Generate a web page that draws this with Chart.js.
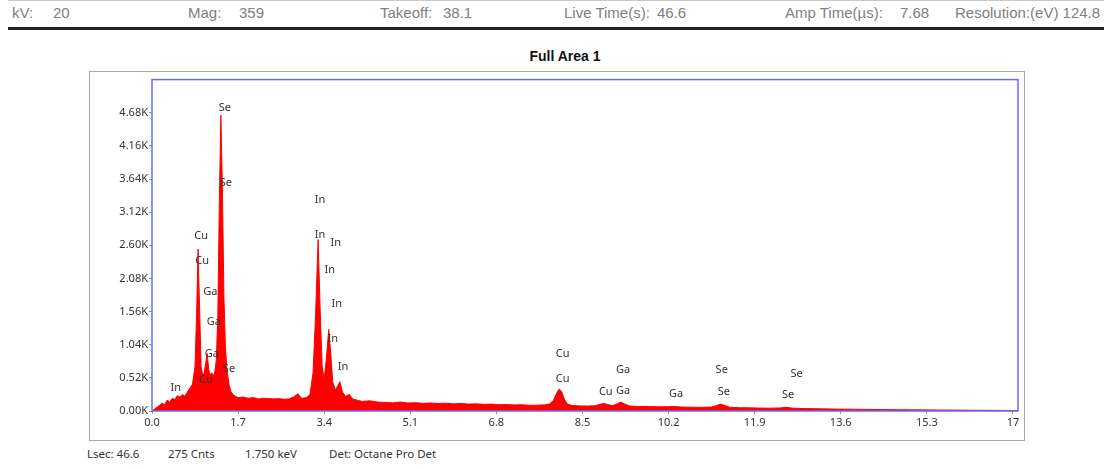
<!DOCTYPE html>
<html>
<head>
<meta charset="utf-8">
<script src="https://cdn.jsdelivr.net/npm/chart.js@4/dist/chart.umd.min.js"></script>
<style>
  body { margin: 0; background: #fff; width: 1112px; height: 468px; position: relative; overflow: hidden; font-family: "Liberation Sans", Arial, sans-serif; }
  .hdr { position: absolute; top: 4px; font-size: 15px; color: #808080; white-space: pre; }
  #topline { position: absolute; left: 8px; top: 0px; width: 1096px; height: 1px; background: #c8c8c8; }
  #rule { position: absolute; left: 8px; top: 27px; width: 1096px; height: 3px; background: #222; }
  #title { position: absolute; left: 0; width: 1130px; top: 48px; text-align: center; font-weight: bold; font-size: 14px; color: #111; }
  #box { position: absolute; left: 89px; top: 71px; width: 934px; height: 368px; border: 1px solid #a8a8a8; }
  #box canvas { position: absolute; left: 0; top: 0; }
  .ftr { position: absolute; top: 446px; font-family: "Noto Sans", sans-serif; font-size: 11.5px; color: #333; white-space: pre; }
</style>
</head>
<body>
<div id="topline"></div>
<div class="hdr" style="left:12px">kV:</div>
<div class="hdr" style="left:53px">20</div>
<div class="hdr" style="left:188px">Mag:</div>
<div class="hdr" style="left:239px">359</div>
<div class="hdr" style="left:380px">Takeoff:</div>
<div class="hdr" style="left:443px">38.1</div>
<div class="hdr" style="left:564px">Live Time(s):</div>
<div class="hdr" style="left:657px">46.6</div>
<div class="hdr" style="left:785px">Amp Time(µs):</div>
<div class="hdr" style="left:900px">7.68</div>
<div class="hdr" style="left:955px">Resolution:(eV) 124.8</div>
<div id="rule"></div>
<div id="title">Full Area 1</div>
<div id="box"><canvas id="chart" width="934" height="368"></canvas></div>
<div class="ftr" style="left:87px">Lsec: 46.6</div>
<div class="ftr" style="left:168px">275 Cnts</div>
<div class="ftr" style="left:245px">1.750 keV</div>
<div class="ftr" style="left:329px">Det: Octane Pro Det</div>

<script>
// spectrum, energy in keV and counts
const energy = [
  0.00, 0.05, 0.10, 0.15, 0.20, 0.25, 0.30, 0.35, 0.40, 0.45, 0.50, 0.55, 0.60, 0.65, 0.70, 0.75, 0.80,
  0.85, 0.88, 0.91, 0.94, 0.97, 1.00, 1.03, 1.06, 1.09, 1.12, 1.15, 1.18, 1.21, 1.24, 1.27,
  1.30, 1.33, 1.36, 1.39, 1.42, 1.45, 1.48, 1.52, 1.56, 1.60, 1.65, 1.70, 1.80, 1.90, 2.00,
  2.10, 2.20, 2.30, 2.40, 2.50, 2.60, 2.70, 2.80, 2.88, 2.95, 3.05, 3.12, 3.18, 3.23, 3.28,
  3.32, 3.36, 3.40, 3.44, 3.49, 3.53, 3.57, 3.62, 3.67, 3.71, 3.76, 3.82, 3.90, 3.96, 4.05,
  4.15, 4.30, 4.45, 4.60, 4.75, 4.90, 5.05, 5.20, 5.35, 5.50, 5.65, 5.80, 5.95, 6.10, 6.25,
  6.40, 6.55, 6.70, 6.85, 7.00, 7.15, 7.30, 7.45, 7.60, 7.75, 7.85, 7.93, 7.99, 8.04, 8.09,
  8.14, 8.20, 8.30, 8.45, 8.60, 8.75, 8.85, 8.92, 9.00, 9.10, 9.18, 9.25, 9.32, 9.42, 9.60,
  9.80, 10.00, 10.20, 10.30, 10.45, 10.65, 10.85, 11.05, 11.15, 11.22, 11.30, 11.40, 11.60, 11.80, 12.00,
  12.20, 12.40, 12.52, 12.65, 12.90, 13.20, 13.50, 13.80, 14.10, 14.40, 14.70, 15.00, 15.40, 15.80, 16.20,
  16.60, 17.00, 17.10
];
const counts = [
  0, 30, 60, 90, 120, 100, 170, 140, 200, 180, 240, 220, 260, 230, 300, 360, 420,
  700, 1500, 2540, 1600, 700, 560, 600, 750, 900, 650, 560, 600, 540, 620, 800,
  1500, 3300, 4640, 3500, 1800, 1000, 650, 420, 300, 260, 230, 210, 220, 200, 210,
  190, 200, 195, 190, 195, 185, 190, 220, 270, 200, 210, 260, 600, 1500, 2690,
  1600, 700, 500, 800, 1280, 900, 450, 330, 400, 460, 300, 230, 260, 190, 170,
  150, 160, 140, 135, 128, 140, 125, 130, 120, 126, 118, 122, 112, 118, 108,
  112, 104, 108, 98, 102, 95, 98, 90, 92, 96, 110, 170, 280, 345, 300,
  190, 110, 85, 80, 78, 82, 105, 120, 100, 85, 110, 140, 115, 80, 72,
  70, 66, 68, 72, 62, 60, 58, 62, 85, 108, 90, 60, 52, 50, 46,
  44, 48, 58, 44, 38, 34, 30, 28, 25, 22, 20, 18, 16, 14, 12,
  10, 8, 6
];

// peak labels: element, energy of label, height of label in counts
const peakNames  = ['Se', 'Se', 'Cu', 'Cu', 'Ga', 'Ga', 'Ga', 'Cu', 'Se', 'In',
                    'In', 'In', 'In', 'In', 'In', 'In', 'In',
                    'Cu', 'Cu', 'Ga', 'Cu', 'Ga', 'Ga', 'Se', 'Se', 'Se', 'Se'];
const peakEnergy = [1.44, 1.46, 0.97, 0.99, 1.15, 1.22, 1.18, 1.07, 1.52, 0.47,
                    3.32, 3.32, 3.63, 3.51, 3.65, 3.57, 3.77,
                    8.11, 8.11, 9.30, 8.96, 9.30, 10.35, 11.25, 11.29, 12.73, 12.56];
const peakLevel  = [4750, 3575, 2755, 2352, 1873, 1393, 898, 495, 665, 356,
                    3312, 2770, 2646, 2213, 1687, 1130, 696,
                    898, 511, 650, 294, 310, 263, 650, 294, 588, 248];

const xTicks = [0, 1.7, 3.4, 5.1, 6.8, 8.5, 10.2, 11.9, 13.6, 15.3, 17];
const xTickLabels = ['0.0', '1.7', '3.4', '5.1', '6.8', '8.5', '10.2', '11.9', '13.6', '15.3', '17'];
const yTicks = [0, 520, 1040, 1560, 2080, 2600, 3120, 3640, 4160, 4680];

const points = energy.map((e, i) => ({ x: e, y: counts[i] }));

const frame = {
  id: 'frame',
  afterDraw(chart) {
    const a = chart.chartArea;
    const c = chart.ctx;
    c.save();
    c.strokeStyle = '#6a6aff';
    c.lineWidth = 1.5;
    c.strokeRect(a.left, a.top, a.right - a.left, a.bottom - a.top);
    c.restore();
  }
};

const peakLabels = {
  id: 'peakLabels',
  afterDatasetsDraw(chart) {
    const c = chart.ctx;
    const xs = chart.scales.x, ys = chart.scales.y;
    c.save();
    c.font = '11px "Noto Sans", sans-serif';
    c.fillStyle = '#333';
    c.textAlign = 'center';
    c.textBaseline = 'middle';
    for (let i = 0; i < peakNames.length; i++) {
      c.fillText(peakNames[i], xs.getPixelForValue(peakEnergy[i]), ys.getPixelForValue(peakLevel[i]));
    }
    c.restore();
  }
};

const ctx = document.getElementById('chart').getContext('2d');
const spectrum = new Chart(ctx, {
  type: 'line',
  data: {
    datasets: [{
      data: points,
      borderColor: 'rgb(255, 0, 0)',
      backgroundColor: 'rgb(255, 0, 0)',
      borderWidth: 1,
      pointRadius: 0,
      fill: 'origin',
      tension: 0
    }]
  },
  options: {
    responsive: false,
    animation: false,
    layout: { padding: { top: 3, right: 6, left: 0, bottom: 0 } },
    plugins: { legend: { display: false }, tooltip: { enabled: false } },
    scales: {
      x: {
        type: 'linear',
        min: 0,
        max: 17.1,
        afterBuildTicks: (s) => { s.ticks = xTicks.map(v => ({ value: v })); },
        afterFit: (s) => { s.height = 29; },
        ticks: {
          autoSkip: false,
          maxRotation: 0,
          padding: 2,
          color: '#333',
          font: { family: 'Noto Sans', size: 11 },
          callback: (v, i) => xTickLabels[i]
        },
        grid: { drawOnChartArea: false, tickLength: 3, color: '#999' },
        border: { display: false }
      },
      y: {
        min: 0,
        max: 5200,
        afterBuildTicks: (s) => { s.ticks = yTicks.map(v => ({ value: v })); },
        afterFit: (s) => { s.width = 62; },
        ticks: {
          autoSkip: false,
          padding: 1,
          color: '#333',
          font: { family: 'Noto Sans', size: 11 },
          callback: (v) => (v / 1000).toFixed(2) + 'K'
        },
        grid: { drawOnChartArea: false, tickLength: 3, color: '#999' },
        border: { display: false }
      }
    }
  },
  plugins: [frame, peakLabels]
});
</script>
</body>
</html>
